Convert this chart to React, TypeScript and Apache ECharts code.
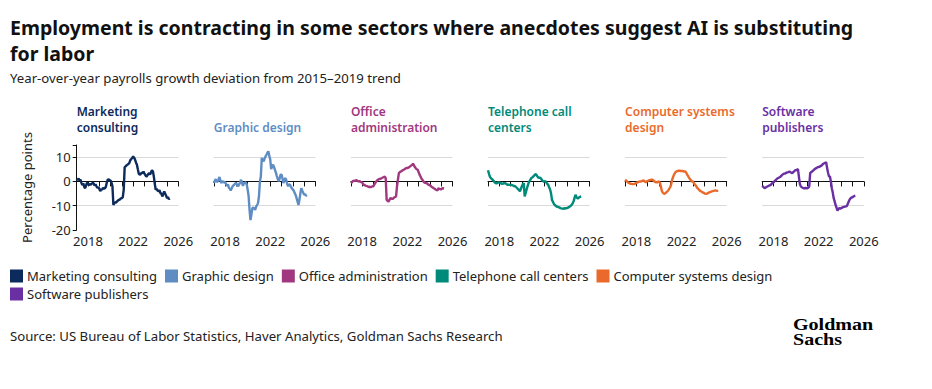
import React, { useEffect, useRef } from "react";
import * as echarts from "echarts";

// Monthly values, Jan 2017 onward (percentage points)
const startYear = 2017;
const xMin = 2017;
const xMax = 2026;
const xTickLabels = [2018, 2022, 2026];
const yTickLabels = [10, 0, -10, -20];

const marketingConsulting = [
  1.0, 0.6, 1.2, 0.4, 0.8, -0.6, -1.5, -0.8, -2.2, -2.8, -1.6, -0.5,
  -0.8, -1.6, -1.0, -1.4, -0.9, -0.6, -0.8, -1.7, -1.2, -2.0, -2.6, -2.4,
  -3.0, -4.0, -3.2, -3.4, -2.6, -3.0, -2.8, -2.2, -0.4, 0.7, 0.9, 0.4,
  0.4, -0.5, -2.0, -9.7, -9.0, -8.6, -8.7, -8.2, -7.8, -7.6, -7.4, -7.0,
  -6.9, -6.5, -3.4, 5.9, 6.2, 6.6, 6.9, 7.2, 7.6, 8.8, 9.2, 9.7,
  10.3, 9.8, 9.0, 7.8, 6.9, 5.0, 3.2, 2.8, 3.0, 3.6, 3.4, 4.1,
  3.2, 2.6, 2.0, 2.4, 3.0, 3.4, 2.8, 3.8, 4.6, 4.2, 2.0, -1.0,
  -3.4, -3.0, -3.8, -4.1, -3.6, -4.8, -5.0, -6.2, -5.2, -4.1, -5.0, -5.8,
  -6.9, -6.4, -7.3, -7.0,
];
const graphicDesign = [
  -0.7, 0.2, 1.0, -0.2, 0.0, 0.8, 1.8, 0.4, -0.7, 0.2, -0.4, -0.2,
  -0.4, -1.0, -1.8, -1.2, -2.6, -3.0, -3.7, -2.8, -2.0, -1.6, -1.2, -0.7,
  -0.7, -1.6, -2.0, -1.2, -0.4, 0.7, -0.6, -1.8, -0.8, -0.6, -0.4, -1.2,
  -3.4, -6.0, -11.7, -15.9, -13.5, -11.0, -10.8, -11.2, -11.7, -10.4, -9.7, -9.0,
  -6.2, 0.0, 2.0, 9.7, 8.8, 8.3, 9.4, 10.3, 11.0, 11.8, 12.4, 10.6,
  9.0, 5.1, 6.2, 6.9, 6.0, 4.8, 3.6, 2.2, 1.0, 0.0, 1.2, 2.8,
  2.8, 1.2, -0.7, 0.4, 1.4, 0.6, -1.0, -2.0, -1.2, -1.4, -2.2, -2.8,
  -3.4, -3.8, -4.8, -5.6, -6.9, -8.2, -9.7, -7.6, -5.0, -2.8, -3.8, -4.6,
  -5.5, -5.2, -5.9, -5.6,
];
const officeAdministration = [
  -0.7, -0.4, 0.1, 0.3, 0.2, 0.4, 0.5, 0.2, 0.0, 0.2, -0.2, -0.3,
  -0.4, -1.2, -1.4, -1.6, -1.8, -1.9, -2.1, -2.3, -2.2, -2.4, -2.2, -2.0,
  -2.0, -1.2, -0.6, 0.0, 0.4, 0.8, 1.0, 1.0, 1.2, 1.4, 1.6, 1.8,
  2.0, 1.4, -7.6, -8.0, -8.3, -7.6, -6.9, -7.0, -7.3, -7.0, -6.6, -6.4,
  -6.2, -2.0, 0.7, 3.4, 3.8, 4.1, 4.3, 4.6, 4.8, 5.0, 5.3, 5.5,
  5.5, 5.7, 5.9, 6.2, 6.5, 6.8, 7.3, 6.6, 5.9, 5.4, 5.0, 4.8,
  3.8, 2.8, 2.0, 1.2, 0.7, 0.0, -0.4, -0.6, -0.7, -0.8, -1.2, -1.4,
  -1.6, -1.9, -2.3, -2.5, -2.8, -3.0, -3.3, -3.5, -3.7, -2.8, -3.0, -3.2,
  -3.2, -2.9, -2.8, -2.9,
];
const telephoneCallCenters = [
  4.6, 3.2, 2.0, 1.4, 1.0, 0.7, 0.2, -0.4, -0.7, -0.8, -0.6, -0.4,
  -0.4, -0.6, -0.8, -1.0, -0.9, -0.7, -0.7, -0.9, -1.2, -1.4, -1.3, -1.4,
  -1.4, -1.4, -1.6, -1.7, -2.0, -2.0, -2.4, -2.8, -3.2, -3.6, -4.1, -3.0,
  -2.0, -1.2, -0.7, -6.2, -4.8, -3.4, -2.0, -0.8, 0.0, 0.6, 1.4, 1.6,
  2.0, 2.4, 2.8, 3.0, 2.4, 1.8, 1.4, 1.6, 1.4, 0.8, 0.2, 0.0,
  0.0, 0.1, -0.4, -1.0, -1.4, -2.4, -3.4, -4.8, -7.6, -8.4, -9.2, -9.7,
  -10.0, -10.3, -10.6, -10.5, -10.8, -11.0, -11.1, -11.2, -11.3, -11.0, -11.2, -11.0,
  -11.0, -10.8, -10.6, -10.3, -10.0, -9.6, -9.0, -8.2, -6.8, -5.5, -6.4, -6.9,
  -6.9, -6.5, -6.3, -6.2,
];
const computerSystemsDesign = [
  0.7, 0.4, 0.0, -0.4, -0.6, -0.8, -1.0, -1.0, -1.1, -1.1, -1.0, -0.8,
  -0.6, -0.4, -0.3, -0.1, 0.0, 0.0, 0.2, 0.4, 0.3, 0.0, -0.4, 0.0,
  0.2, 0.4, 0.5, 0.6, 0.7, 0.7, 0.4, 0.0, -0.2, -0.4, -0.4, -0.2,
  0.0, -0.6, -2.0, -3.8, -4.6, -4.9, -5.1, -4.8, -4.4, -4.1, -3.6, -3.0,
  -2.3, -1.2, 0.7, 1.8, 2.8, 3.4, 4.0, 4.2, 4.3, 4.4, 4.4, 4.3,
  4.3, 4.3, 4.2, 4.1, 4.1, 3.6, 2.8, 2.2, 1.4, 1.0, 0.5, 0.0,
  0.0, -0.6, -1.2, -1.6, -2.2, -2.8, -3.2, -3.6, -4.0, -4.1, -4.4, -4.6,
  -4.8, -5.0, -5.1, -5.0, -4.8, -4.6, -4.4, -4.3, -4.1, -4.0, -3.9, -3.8,
  -3.7, -3.8, -3.9, -3.9,
];
const softwarePublishers = [
  -1.8, -2.2, -2.6, -2.8, -2.4, -2.2, -2.0, -1.8, -1.6, -1.4, -1.0, -0.6,
  -0.4, 0.0, 0.4, 0.8, 1.2, 1.4, 1.6, 1.8, 2.2, 2.6, 2.9, 3.2,
  3.2, 3.4, 3.6, 3.7, 3.9, 4.1, 3.8, 3.6, 3.4, 3.8, 4.2, 4.6,
  4.6, 4.8, 5.1, 2.0, -1.0, -2.0, -2.4, -2.6, -2.8, -2.8, -2.7, -2.8,
  -2.8, -2.6, -2.0, 3.4, 3.8, 4.1, 4.4, 4.8, 5.1, 5.4, 5.6, 5.9,
  5.9, 6.1, 6.3, 6.5, 6.9, 7.3, 7.5, 7.7, 7.9, 5.5, 3.6, 2.0,
  2.0, 0.0, -2.8, -4.6, -6.9, -8.2, -9.7, -10.8, -12.0, -11.4, -11.0, -11.2,
  -11.0, -10.8, -10.6, -10.5, -10.4, -10.3, -10.1, -9.2, -8.3, -7.4, -6.9, -6.6,
  -6.5, -6.2, -6.0, -5.9,
];

const seriesNames = [
  "Marketing consulting",
  "Graphic design",
  "Office administration",
  "Telephone call centers",
  "Computer systems design",
  "Software publishers",
];
const panelTitleLines = [
  ["Marketing", "consulting"],
  ["Graphic design"],
  ["Office", "administration"],
  ["Telephone call", "centers"],
  ["Computer systems", "design"],
  ["Software", "publishers"],
];
const seriesValues = [
  marketingConsulting,
  graphicDesign,
  officeAdministration,
  telephoneCallCenters,
  computerSystemsDesign,
  softwarePublishers,
];
const colors = ["#0c2a5b", "#5f8dc3", "#a1387f", "#008a7a", "#ea6a2b", "#6a2fa3"];

const FONT = "'Noto Sans', sans-serif";
const TEXT = "#222";

export default function App() {
  const ref = useRef<HTMLDivElement>(null);
  useEffect(() => {
    document.body.style.margin = "0";
    const chart = echarts.init(ref.current!, null, { renderer: "svg" });
    const panelLeft0 = 76.7;
    const panelStep = 137.1;
    const panelW = 101.6;
    const gridTop = 145;
    const gridH = 85;

    const grids: any[] = [];
    const xAxes: any[] = [];
    const yAxes: any[] = [];
    const series: any[] = [];
    const graphics: any[] = [];

    seriesValues.forEach((vals, i) => {
      const left = panelLeft0 + i * panelStep;
      grids.push({ left, top: gridTop, width: panelW, height: gridH, containLabel: false });
      xAxes.push({
        type: "value",
        gridIndex: i,
        min: xMin,
        max: xMax,
        interval: 1,
        axisLine: { show: true, lineStyle: { color: "#111", width: 1 } },
        axisTick: { show: true, length: 5, lineStyle: { color: "#111" } },
        splitLine: { show: false },
        axisLabel: {
          show: true,
          interval: 0,
          showMinLabel: true,
          showMaxLabel: true,
          hideOverlap: false,
          margin: 4,
          color: TEXT,
          fontSize: 13,
          fontFamily: FONT,
          formatter: (v: number) => (xTickLabels.includes(Math.round(v)) ? String(Math.round(v)) : ""),
        },
      });
      const first = i === 0;
      yAxes.push({
        type: "value",
        gridIndex: i,
        min: -20,
        max: 15,
        interval: 10,
        axisLine: { show: first, onZero: false, lineStyle: { color: "#111", width: 1 } },
        axisTick: { show: first, length: 4, lineStyle: { color: "#111" } },
        axisLabel: {
          show: first,
          margin: 6,
          color: TEXT,
          fontSize: 13,
          fontFamily: FONT,
          formatter: (v: number) => (yTickLabels.includes(v) ? String(v) : ""),
        },
        splitLine: {
          show: true,
          showMinLine: false,
          showMaxLine: false,
          lineStyle: { color: "#d9d9d9", width: 1 },
        },
      });
      series.push({
        name: seriesNames[i],
        type: "line",
        xAxisIndex: i,
        yAxisIndex: i,
        showSymbol: false,
        symbol: "none",
        color: colors[i],
        lineStyle: { color: colors[i], width: 2.4 },
        data: vals.map((v, k) => [startYear + k / 12, v]),
      });
      const lines = panelTitleLines[i];
      lines.forEach((ln, j) => {
        const cy = lines.length === 2 ? 111.8 + j * 15.4 : 127.2;
        graphics.push({
          type: "text",
          x: left,
          y: cy,
          style: {
            text: ln,
            fill: colors[i],
            font: `600 12px ${FONT}`,
            verticalAlign: "middle",
          },
        });
      });
    });

    graphics.push(
      {
        type: "text",
        x: 10,
        y: 27.5,
        style: {
          text: "Employment is contracting in some sectors where anecdotes suggest AI is substituting",
          fill: "#111",
          font: `bold 19.5px ${FONT}`,
          verticalAlign: "middle",
        },
      },
      {
        type: "text",
        x: 10,
        y: 53,
        style: {
          text: "for labor",
          fill: "#111",
          font: `bold 19.5px ${FONT}`,
          verticalAlign: "middle",
        },
      },
      {
        type: "text",
        x: 10,
        y: 78,
        style: {
          text: "Year-over-year payrolls growth deviation from 2015–2019 trend",
          fill: TEXT,
          font: `13.2px ${FONT}`,
          verticalAlign: "middle",
        },
      },
      {
        type: "text",
        x: 27,
        y: 187.5,
        rotation: Math.PI / 2,
        style: {
          text: "Percentage points",
          fill: TEXT,
          font: `13px ${FONT}`,
          align: "center",
          verticalAlign: "middle",
        },
      },
      {
        type: "text",
        x: 10,
        y: 336,
        style: {
          text: "Source: US Bureau of Labor Statistics, Haver Analytics, Goldman Sachs Research",
          fill: TEXT,
          font: `13.2px ${FONT}`,
          verticalAlign: "middle",
        },
      },
      {
        type: "text",
        x: 793,
        y: 324,
        scaleX: 1.18,
        style: {
          text: "Goldman",
          fill: "#000",
          font: `bold 17px 'Liberation Serif', serif`,
          verticalAlign: "middle",
        },
      },
      {
        type: "text",
        x: 793,
        y: 339,
        scaleX: 1.18,
        style: {
          text: "Sachs",
          fill: "#000",
          font: `bold 17px 'Liberation Serif', serif`,
          verticalAlign: "middle",
        },
      }
    );

    const legendCommon = {
      orient: "horizontal",
      icon: "rect",
      itemWidth: 13,
      itemHeight: 13,
      itemGap: 8,
      padding: 0,
      textStyle: { color: TEXT, fontSize: 13, fontFamily: FONT, padding: [0, 0, 0, -1] },
      selectedMode: false,
    };

    chart.setOption({
      animation: false,
      backgroundColor: "#fff",
      grid: grids,
      xAxis: xAxes,
      yAxis: yAxes,
      series,
      legend: [
        { ...legendCommon, left: 10, top: 269.5, data: seriesNames.slice(0, 5) },
        { ...legendCommon, left: 10, top: 287.5, data: seriesNames.slice(5) },
      ],
      graphic: graphics,
    });
    return () => chart.dispose();
  }, []);
  return (
    <div
      ref={ref}
      style={{ position: "absolute", left: 0, top: 0, width: 932, height: 389, background: "#fff" }}
    />
  );
}
